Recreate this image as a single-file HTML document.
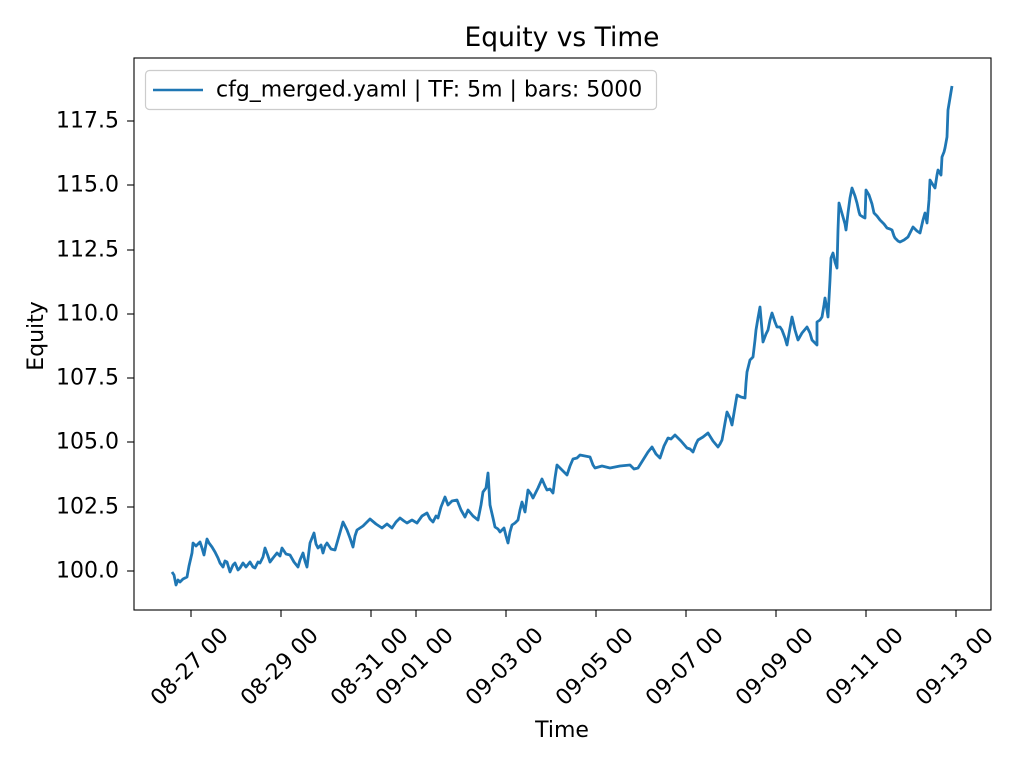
<!DOCTYPE html>
<html><head><meta charset="utf-8"><style>
body{margin:0;background:#fff}
svg text{font-family:"DejaVu Sans","Liberation Sans",sans-serif;fill:#000}
</style></head><body>
<svg width="1024" height="768" viewBox="0 0 1024 768" xmlns="http://www.w3.org/2000/svg">
<rect width="1024" height="768" fill="#fff"/>
<text x="562" y="46" font-size="26.5" text-anchor="middle">Equity vs Time</text>
<polyline fill="none" stroke="#1f77b4" stroke-width="2.8" stroke-linejoin="round" points="172,572 174,575 176,585 178,580 180,582 183,579 187,577 189,566 192,553 193,543 196,546 200,542 202,548 204,555 207,539 209,543 212,547 215,552 218,558 220,563 223,567 225,561 227,562 230,572 233,565 235,563 238,570 240,568 243,563 246,567 250,562 253,567 255,568 258,562 260,563 263,557 265,548 268,556 270,562 273,558 277,553 280,556 282,548 286,554 290,555 294,562 298,567 300,560 303,553 305,561 307,567 310,543 312,538 314,533 316,544 318,548 321,545 323,553 325,546 327,543 331,549 335,550 339,536 343,522 345,526 347,530 350,538 353,547 355,536 357,530 363,526 370,519 376,524 382,528 387,524 392,528 396,522 400,518 404,521 407,523 412,520 417,523 422,516 427,513 430,519 433,522 436,516 438,518 441,507 445,497 448,505 452,501 457,500 461,510 465,517 468,510 473,516 478,520 481,505 483,492 486,488 488,473 490,505 493,518 495,527 498,529 500,532 504,528 506,536 508,543 510,532 512,525 515,523 518,520 520,510 522,502 525,512 528,490 531,494 533,498 538,488 542,479 545,486 547,490 550,489 553,493 555,478 557,465 562,470 567,475 570,466 573,459 577,458 580,455 585,456 590,457 593,465 595,468 602,466 610,468 620,466 630,465 634,469 638,468 643,460 648,452 652,447 656,454 660,458 664,446 668,438 671,439 675,435 681,441 687,448 690,449 693,452 696,444 698,440 703,437 708,433 713,441 718,447 720,444 722,440 725,423 727,412 730,418 732,425 735,407 737,395 741,397 745,398 746,383 747,372 750,360 753,357 755,340 756,330 758,318 760,307 762,330 763,342 766,334 768,330 770,320 772,313 775,322 777,327 780,327 782,330 785,338 787,345 790,328 792,317 795,330 798,340 802,333 807,327 810,333 812,340 815,343 817,345 817,322 820,320 822,317 824,305 825,298 827,310 828,317 830,280 831,258 833,253 835,262 837,268 838,230 839,203 841,210 843,217 845,224 846,230 848,213 850,198 852,188 855,196 857,203 859,212 860,215 863,217 865,218 866,190 869,195 872,204 874,213 877,216 880,220 884,224 887,228 890,229 892,230 894,236 895,238 898,241 900,242 904,240 908,237 911,231 913,227 917,231 920,233 923,220 925,213 927,223 929,200 930,180 933,185 935,188 937,175 938,170 941,175 942,157 944,152 945,148 947,137 948,110 950,98 952,86"/>
<rect x="134" y="58" width="857" height="552" fill="none" stroke="#000" stroke-width="1.1"/>
<g stroke="#000" stroke-width="1.1">
<line x1="127" y1="571" x2="134" y2="571"/><line x1="127" y1="507" x2="134" y2="507"/><line x1="127" y1="442" x2="134" y2="442"/><line x1="127" y1="378" x2="134" y2="378"/><line x1="127" y1="314" x2="134" y2="314"/><line x1="127" y1="250" x2="134" y2="250"/><line x1="127" y1="185" x2="134" y2="185"/><line x1="127" y1="121" x2="134" y2="121"/>
<line x1="191" y1="610" x2="191" y2="617"/><line x1="281" y1="610" x2="281" y2="617"/><line x1="371" y1="610" x2="371" y2="617"/><line x1="416" y1="610" x2="416" y2="617"/><line x1="506" y1="610" x2="506" y2="617"/><line x1="596" y1="610" x2="596" y2="617"/><line x1="686" y1="610" x2="686" y2="617"/><line x1="776" y1="610" x2="776" y2="617"/><line x1="866" y1="610" x2="866" y2="617"/><line x1="956" y1="610" x2="956" y2="617"/>
</g>
<g font-size="22" text-anchor="end" dominant-baseline="central">
<text x="119" y="571">100.0</text><text x="119" y="507">102.5</text><text x="119" y="442">105.0</text><text x="119" y="378">107.5</text><text x="119" y="314">110.0</text><text x="119" y="250">112.5</text><text x="119" y="185">115.0</text><text x="119" y="121">117.5</text>
</g>
<g font-size="22" text-anchor="middle" dominant-baseline="central">
<text transform="translate(190,667) rotate(-45)">08-27 00</text>
<text transform="translate(280,667) rotate(-45)">08-29 00</text>
<text transform="translate(370,667) rotate(-45)">08-31 00</text>
<text transform="translate(415,667) rotate(-45)">09-01 00</text>
<text transform="translate(505,667) rotate(-45)">09-03 00</text>
<text transform="translate(595,667) rotate(-45)">09-05 00</text>
<text transform="translate(685,667) rotate(-45)">09-07 00</text>
<text transform="translate(775,667) rotate(-45)">09-09 00</text>
<text transform="translate(865,667) rotate(-45)">09-11 00</text>
<text transform="translate(955,667) rotate(-45)">09-13 00</text>
</g>
<text x="562" y="737" font-size="22" text-anchor="middle">Time</text>
<text transform="translate(43,336) rotate(-90)" font-size="22" text-anchor="middle">Equity</text>
<rect x="145.5" y="70.5" width="511" height="39" rx="4" fill="#fff" fill-opacity="0.8" stroke="#ccc" stroke-width="1.2"/>
<line x1="153" y1="90" x2="203" y2="90" stroke="#1f77b4" stroke-width="2.6"/>
<text x="216" y="90" font-size="22" dominant-baseline="central">cfg_merged.yaml | TF: 5m | bars: 5000</text>
</svg>
</body></html>
